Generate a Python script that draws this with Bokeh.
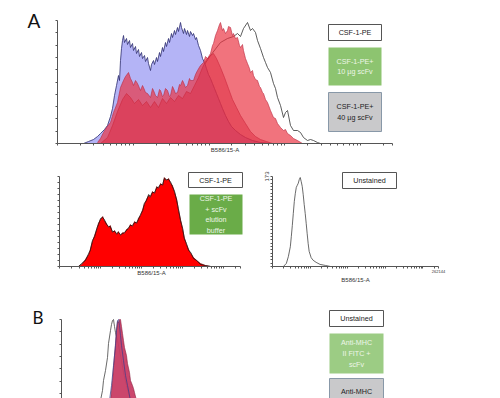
import numpy as np
from bokeh.plotting import figure
from bokeh.models import Range1d, FixedTicker
from bokeh.layouts import column, row
from bokeh.embed import file_html
from bokeh.resources import INLINE
from bokeh.core.properties import value

# ---------------- data (x = display channel, 0..335 <-> 10^1..262144; y = events) ----------------
# Panel A, top: overlay of four samples
a1_blue_x = [26, 31, 36, 40, 43, 47, 50, 53, 55, 57, 59, 61, 62, 63, 64, 65, 66, 67, 69, 70, 72, 73, 75, 76, 78, 79,
             81, 82, 84, 85, 87, 88, 90, 91, 93, 94, 96, 97, 99, 100, 102, 103, 105, 106, 108, 109, 111, 112, 114,
             115, 117, 118, 120, 121, 123, 124, 126, 127, 129, 130, 132, 133, 135, 136, 138, 139, 141, 143, 145,
             147, 149, 151, 153, 155, 157, 159, 161, 163, 165, 168, 171, 174, 178, 183, 188, 195, 203, 213]
a1_blue_y = [0, 2, 4, 7, 10, 14, 18, 27, 35, 48, 58, 68, 63, 83, 95, 103, 108, 101, 105, 99, 103, 96, 100, 93, 97, 90,
             94, 87, 91, 85, 88, 82, 86, 80, 73, 79, 83, 79, 86, 82, 91, 87, 96, 92, 101, 97, 105, 101, 110,
             106, 113, 109, 116, 112, 121, 116, 110, 115, 109, 113, 107, 112, 108, 110, 104, 106, 98, 93, 85,
             81, 75, 69, 65, 60, 55, 50, 45, 40, 35, 28, 22, 17, 13, 9, 6, 3, 1, 0]

a1_red2_x = [43, 50, 55, 60, 65, 69, 73, 77, 81, 85, 89, 93, 97, 101, 105, 109, 113, 117, 121, 125, 129, 133, 137,
             141, 145, 149, 153, 156, 159, 163, 167, 171, 175, 179, 183, 188, 193, 198, 203, 209, 215]
a1_red2_y = [0, 6, 18, 32, 44, 50, 46, 40, 44, 38, 42, 36, 42, 36, 45, 40, 46, 42, 48, 45, 52, 50, 58,
             66, 76, 84, 88, 90, 85, 76, 66, 55, 44, 36, 28, 20, 12, 7, 4, 2, 0]

a1_red1_x = [40, 43, 46, 49, 53, 56, 60, 63, 66, 68, 71, 73, 75, 76, 78, 80, 83, 85, 86, 88, 90, 93, 95, 96, 98, 100,
             102, 103, 105, 106, 108, 110, 112, 113, 115, 116, 118, 120, 122, 123, 125, 126, 128, 130, 132, 133,
             136, 138, 140, 143, 146, 148, 150, 153, 155, 156, 158, 160, 162, 163, 165, 166, 168, 170, 171, 173,
             175, 176, 178, 180, 182, 183, 185, 186, 188, 190, 192, 193, 195, 196, 198, 200, 202, 203, 205, 206,
             208, 210, 213, 216, 218, 220, 223, 226, 228, 230, 233, 236, 240, 245]
a1_red1_y = [1, 5, 11, 16, 21, 31, 41, 56, 63, 67, 71, 65, 61, 58, 63, 60, 53, 58, 56, 51, 50, 46, 55, 53, 48, 46,
             54, 53, 47, 48, 55, 53, 47, 48, 57, 55, 50, 51, 59, 58, 63, 61, 56, 58, 65, 63,
             63, 69, 73, 78, 81, 87, 85, 90, 98, 100, 108, 113, 119, 121, 113, 115, 110, 113, 117, 116,
             108, 110, 105, 106, 98, 96, 99, 93, 85, 80, 75, 71, 73, 68, 64, 63, 57, 56, 51, 50,
             44, 41, 33, 26, 25, 20, 16, 13, 14, 10, 8, 5, 3, 0]

a1_black_x = [43, 53, 63, 73, 83, 93, 103, 113, 123, 133, 143, 153, 163, 170, 176, 180, 183, 186, 190, 193, 195, 198,
              200, 203, 206, 208, 210, 213, 216, 218, 220, 223, 226, 228, 230, 233, 236, 240, 243, 246, 250, 253,
              256, 260, 263]
a1_black_y = [0, 8, 23, 33, 35, 37, 39, 43, 48, 58, 73, 88, 101, 105, 107, 110, 107, 115, 121, 113, 115, 111,
              103, 95, 86, 81, 76, 71, 60, 55, 46, 38, 26, 31, 33, 18, 13, 13, 11, 6, 3, 4,
              3, 1, 0]

# Panel A, middle left: CSF-1-PE vs CSF-1-PE + scFv elution buffer
a2_x = [35, 41, 48, 54, 57, 61, 65, 69, 72, 76, 80, 83, 87, 91, 94, 98, 102, 106, 109, 113, 117, 120, 124, 128, 131,
        135, 139, 143, 146, 150, 154, 157, 161, 165, 168, 172, 176, 180, 183, 187, 191, 194, 198, 202, 206, 209,
        213, 217, 220, 224, 228, 231, 235, 239, 243, 248, 254, 261, 270, 280]
a2_red_y = [0, 2, 7, 12, 17, 25, 31, 37, 43, 47, 50, 46, 43, 39, 41, 34, 36, 32, 35, 31, 34, 33, 37, 38, 42,
            40, 45, 43, 48, 51, 57, 62, 67, 71, 69, 75, 73, 80, 78, 83, 81, 89, 86, 88, 83, 81,
            74, 67, 57, 47, 37, 29, 22, 17, 13, 9, 6, 3, 1, 0]
a2_blk_y = [0, 3, 6, 13, 16, 26, 30, 38, 42, 48, 49, 47, 42, 40, 40, 35, 35, 33, 34, 32, 33, 34, 36, 39, 41,
            41, 44, 44, 47, 52, 56, 63, 66, 72, 70, 74, 74, 79, 79, 82, 82, 88, 87, 87, 84, 80,
            75, 66, 58, 46, 38, 28, 23, 16, 14, 8, 6, 2, 1, 0]

# Panel A, middle right: unstained
a3_x = [22, 28, 32, 36, 38, 40, 42, 44, 46, 48, 50, 52, 54, 56, 58, 60, 62, 64, 66, 68, 70, 72, 74, 78, 82, 88, 96,
        107, 117]
a3_y = [0, 6, 19, 38, 58, 79, 102, 125, 140, 152, 156, 160, 167, 171, 163, 154, 138, 119, 102, 83, 63, 44, 29,
        17, 12, 8, 4, 2, 0]

# Panel B: unstained / anti-MHC II FITC + scFv / anti-MHC
b_black_x = [27, 32, 36, 39, 41, 42, 44, 46, 47, 49, 50, 51, 52, 53, 54, 56, 58, 60, 62, 65, 69, 74, 79, 84]
b_black_y = [0, 12, 27, 42, 52, 62, 72, 85, 99, 112, 118, 122, 123, 116, 110, 102, 92, 82, 70, 57, 42, 22, 7, 0]
b_red_x = [44, 47, 49, 50, 51, 52, 53, 54, 55, 56, 57, 58, 59, 60, 61, 62, 63, 65, 66, 68, 69, 71, 72, 73, 75, 79,
           84, 89, 94]
b_red_y = [0, 22, 42, 52, 62, 75, 87, 99, 112, 121, 120, 123, 123, 116, 109, 102, 95, 87, 79, 70, 62, 57, 54,
           50, 42, 27, 12, 2, 0]
b_blue_x = [42, 45, 48, 50, 52, 54, 55, 56, 57, 58, 59, 60, 62, 64, 66, 69, 74, 79, 84]
b_blue_y = [0, 22, 42, 57, 77, 97, 112, 122, 123, 117, 107, 97, 82, 67, 57, 42, 22, 7, 0]

AXIS_TOP = 262144
CH_MAX = 335
FONT = "Liberation Sans"


def channel_ticks():
    vals = [k * 10 ** n for n in range(1, 6) for k in range(1, 10) if k * 10 ** n <= AXIS_TOP] + [AXIS_TOP]
    lo, hi = 1.0, np.log10(AXIS_TOP)
    return [round(float((np.log10(v) - lo) / (hi - lo) * CH_MAX), 2) for v in vals]


XT = channel_ticks()


def make_fig(w, h, bl, br, bt, bb, xr, yr, pxx, pxy, ymax, nyt, xlabel=True):
    p = figure(width=w, height=h, title=None, min_border_left=bl, min_border_right=br, min_border_top=bt,
               min_border_bottom=bb, x_range=Range1d(*xr), y_range=Range1d(*yr),
               output_backend="svg", toolbar_location=None)
    p.extra_x_ranges = {"px": Range1d(*pxx)}
    p.extra_y_ranges = {"px": Range1d(*pxy)}
    p.grid.visible = False
    p.outline_line_color = None
    p.border_fill_color = "white"
    p.background_fill_color = "white"
    for ax in (p.xaxis[0], p.yaxis[0]):
        ax.axis_line_color = "#555555"
        ax.major_tick_line_color = "#555555"
        ax.major_tick_out = 2
        ax.major_tick_in = 0
        ax.minor_tick_out = 0
        ax.minor_tick_in = 0
        ax.major_label_standoff = 1
        ax.major_label_text_font = FONT
        ax.major_label_text_color = "#333333"
    p.xaxis.ticker = FixedTicker(ticks=XT, minor_ticks=[])
    p.xaxis.bounds = (0, CH_MAX)
    p.xaxis.major_label_overrides = {t: "" for t in XT}
    p.xaxis.major_label_text_font_size = "4px"
    yt = [round(float(v), 2) for v in np.linspace(0, ymax, nyt)]
    p.yaxis.ticker = FixedTicker(ticks=yt, minor_ticks=[])
    p.yaxis.bounds = (0, ymax)
    p.yaxis.major_label_overrides = {t: "" for t in yt}
    p.yaxis.major_label_text_font_size = "6px"
    if xlabel:
        p.xaxis.axis_label = "B586/15-A"
        p.xaxis.axis_label_text_font = FONT
        p.xaxis.axis_label_text_font_size = "6px"
        p.xaxis.axis_label_text_font_style = "normal"
        p.xaxis.axis_label_text_color = "#333333"
        p.xaxis.axis_label_standoff = 1
    else:
        p.xaxis.visible = False
    return p, yt


def letter_fig(w, h, bt, bb, pxy, x, y, txt, size):
    # frame is aligned with the neighbouring panel's frame, so use the same vertical borders
    p = figure(width=w, height=h, title=None, min_border_left=0, min_border_right=0, min_border_top=bt,
               min_border_bottom=bb, x_range=Range1d(0, w), y_range=Range1d(*pxy),
               x_axis_location=None, y_axis_location=None, output_backend="svg", toolbar_location=None)
    p.grid.visible = False
    p.outline_line_color = None
    p.text(x=[x], y=[y], text=[txt], text_font=value("Lato"), text_font_size=size, text_baseline="alphabetic",
           text_align="left", text_color="#111111")
    return p


def add_box(p, l, r, t, b, fill, line, txt, color, ty=None):
    p.quad(left=[l], right=[r], top=[t], bottom=[b], fill_color=fill, line_color=line, line_width=1,
           x_range_name="px", y_range_name="px")
    p.text(x=[(l + r) / 2], y=[(t + b) / 2 if ty is None else ty], text=[txt], text_align="center",
           text_baseline="middle", text_font=value(FONT), text_font_size="7.2px", text_color=color,
           text_line_height=1.2, x_range_name="px", y_range_name="px")


def hist(p, x, y, fill, alpha, line, lw=0.8):
    if fill is not None:
        p.varea(x=x, y1=[0] * len(x), y2=y, fill_color=fill, fill_alpha=alpha)
    p.line(x=x, y=y, line_color=line, line_width=lw)


# ---- top panel (A) ----
la = letter_fig(54, 160, 10, 17, (143, 10), 27, 20, "A", "19px")
p1, _ = make_fig(446, 160, 3, 108, 10, 17, (0, 335), (0, 133), (57, 392), (143, 10), 123, 11)
hist(p1, a1_black_x, a1_black_y, None, 0, "#333333", 0.8)
hist(p1, a1_blue_x, a1_blue_y, "#b4b4f6", 1.0, "#2c2c6e", 0.8)
hist(p1, a1_red2_x, a1_red2_y, "#c01840", 0.5, "#8a1838", 0.6)
hist(p1, a1_red1_x, a1_red1_y, "#ea3040", 0.68, "#b82840", 0.6)
add_box(p1, 328, 381, 24, 40, "white", "#555555", "CSF-1-PE", "#222222")
add_box(p1, 328, 381, 47, 85, "#8dc470", None, "CSF-1-PE+\n10 µg scFv", "#eef6e8")
add_box(p1, 328, 381, 92, 131, "#c9c9cb", "#8898a8", "CSF-1-PE+\n40 µg scFv", "#222222")

# ---- middle left ----
p2, _ = make_fig(262, 130, 59, 19, 5, 24, (0, 340.6), (0, 101), (59, 243), (266, 165), 90, 16)
p2.varea(x=a2_x, y1=[0] * len(a2_x), y2=a2_red_y, fill_color="#ff0000")
p2.line(x=a2_x, y=a2_blk_y, line_color="#1a1a1a", line_width=0.8)
p2.line(x=a2_x, y=a2_red_y, line_color="#5a0000", line_width=0.6)
add_box(p2, 188, 242, 172, 187, "white", "#555555", "CSF-1-PE", "#222222")
add_box(p2, 189, 242, 194, 234, "#6aac48", None, "CSF-1-PE\n+ scFv\nelution\nbuffer", "#eef6e8")

# ---- middle right ----
p3, yt3 = make_fig(238, 130, 10, 62, 5, 24, (0, 335), (0, 194.1), (272, 438), (266, 165), 173, 28)
p3.line(x=a3_x, y=a3_y, line_color="#444444", line_width=0.8)
p3.yaxis.major_label_overrides = {t: ("173" if t == yt3[-1] else "") for t in yt3}
p3.yaxis.major_label_orientation = "vertical"
p3.xaxis.major_label_overrides = {t: ("262144" if t == XT[-1] else "") for t in XT}
add_box(p3, 342, 396, 172, 188, "white", "#555555", "Unstained", "#222222")

# ---- bottom panel (B) ----
lb = letter_fig(58, 108, 0, 0, (398, 290), 32, 317, "B", "17px")
pb, _ = make_fig(442, 108, 3, 108, 0, 0, (0, 331), (44, 152), (61, 392), (398, 290), 123, 11, xlabel=False)
hist(pb, b_black_x, b_black_y, None, 0, "#444444", 0.8)
hist(pb, b_red_x, b_red_y, "#c83c64", 0.95, "#8a2040", 0.6)
pb.line(x=b_blue_x, y=b_blue_y, line_color="#3a3a8a", line_width=0.7)
add_box(pb, 329, 383, 310, 326, "white", "#555555", "Unstained", "#222222")
add_box(pb, 329, 383, 333, 373, "#9ccc84", None, "Anti-MHC\nII FITC +\nscFv", "#eef6e8")
add_box(pb, 329, 383, 378, 420, "#c9c9cb", "#8898a8", "Anti-MHC", "#222222", ty=391)

layout = column(row(la, p1), row(p2, p3), row(lb, pb))
open("out.html", "w").write(file_html(layout, INLINE))
